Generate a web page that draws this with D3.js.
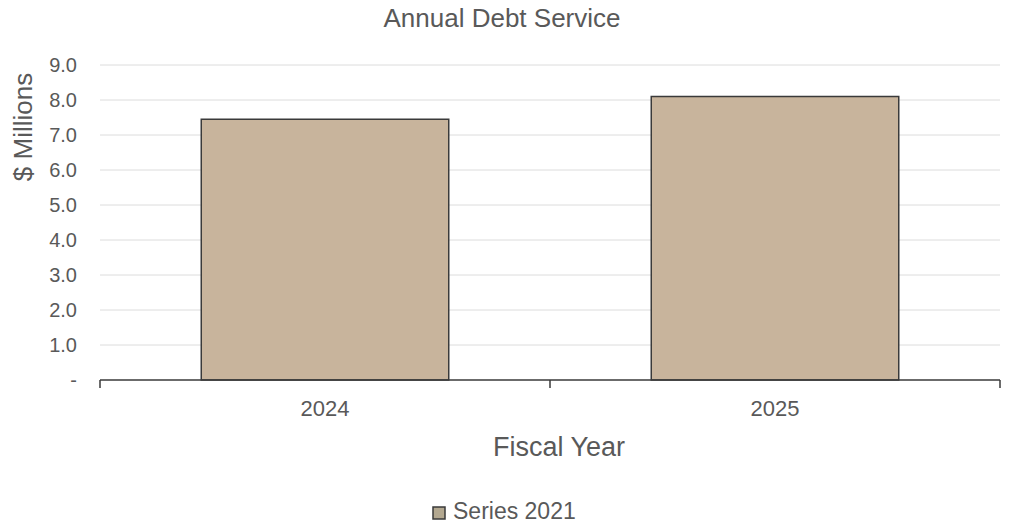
<!DOCTYPE html>
<html>
<head>
<meta charset="utf-8">
<script src="https://cdn.jsdelivr.net/npm/d3@7"></script>
<style>
  body { margin: 0; background: #fff; }
  svg { font-family: "Liberation Sans", Arial, sans-serif; }
</style>
</head>
<body>
<div id="chart"></div>
<script>
// data
var years = ["2024", "2025"];
var debtService = [7.45, 8.1];
var yTicks = [0, 1, 2, 3, 4, 5, 6, 7, 8, 9];
var seriesName = "Series 2021";

var width = 1009, height = 527;
var margin = {top: 65, right: 9, bottom: 147, left: 100};

var svg = d3.select("#chart").append("svg")
  .attr("width", width).attr("height", height);

var x = d3.scaleBand()
  .domain(years)
  .range([margin.left, width - margin.right])
  .paddingInner(0.45)
  .paddingOuter(0.225);

var y = d3.scaleLinear()
  .domain([0, 9])
  .range([height - margin.bottom, margin.top]);

// gridlines
svg.append("g")
  .selectAll("line")
  .data(yTicks.slice(1))
  .enter().append("line")
  .attr("x1", margin.left).attr("x2", width - margin.right)
  .attr("y1", function(d) { return y(d); })
  .attr("y2", function(d) { return y(d); })
  .attr("stroke", "#dcdcdc")
  .attr("stroke-width", 1);

// y labels
svg.append("g")
  .selectAll("text")
  .data(yTicks)
  .enter().append("text")
  .attr("x", 77)
  .attr("y", function(d) { return y(d); })
  .attr("dy", "0.35em")
  .attr("text-anchor", "end")
  .attr("fill", "#595959")
  .attr("font-size", 20)
  .text(function(d) { return d === 0 ? "-" : d.toFixed(1); });

// bars
svg.append("g")
  .selectAll("rect")
  .data(debtService)
  .enter().append("rect")
  .attr("x", function(d, i) { return x(years[i]); })
  .attr("y", function(d) { return y(d); })
  .attr("width", x.bandwidth())
  .attr("height", function(d) { return y(0) - y(d); })
  .attr("fill", "#c8b49c")
  .attr("stroke", "#3a3a3a")
  .attr("stroke-width", 1.5);

// x axis
var xAxis = svg.append("g")
  .attr("transform", "translate(0," + y(0) + ")");
xAxis.append("line")
  .attr("x1", margin.left).attr("x2", width - margin.right)
  .attr("stroke", "#3a3a3a").attr("stroke-width", 1.5);
// category boundaries
var bounds = [margin.left].concat(years.map(function(d) {
  return x(d) + x.bandwidth() + x.step() * x.paddingInner() / 2;
}));
bounds[bounds.length - 1] = width - margin.right;
xAxis.selectAll("line.tick")
  .data(bounds)
  .enter().append("line")
  .attr("class", "tick")
  .attr("x1", function(d) { return d; })
  .attr("x2", function(d) { return d; })
  .attr("y1", 0).attr("y2", 8)
  .attr("stroke", "#3a3a3a").attr("stroke-width", 1.5);
xAxis.selectAll("text")
  .data(years)
  .enter().append("text")
  .attr("x", function(d) { return x(d) + x.bandwidth() / 2; })
  .attr("y", 36)
  .attr("text-anchor", "middle")
  .attr("fill", "#595959")
  .attr("font-size", 22)
  .text(function(d) { return d; });

// titles
svg.append("text")
  .attr("x", 502).attr("y", 27)
  .attr("text-anchor", "middle")
  .attr("fill", "#595959")
  .attr("font-size", 26)
  .text("Annual Debt Service");

svg.append("text")
  .attr("transform", "translate(32,127) rotate(-90)")
  .attr("text-anchor", "middle")
  .attr("fill", "#595959")
  .attr("font-size", 26)
  .text("$ Millions");

svg.append("text")
  .attr("x", 559).attr("y", 456)
  .attr("text-anchor", "middle")
  .attr("fill", "#595959")
  .attr("font-size", 27)
  .text("Fiscal Year");

// legend
var legend = svg.append("g").attr("transform", "translate(433,507)");
legend.append("rect")
  .attr("x", 0).attr("y", 0).attr("width", 12).attr("height", 12)
  .attr("fill", "#b3a890").attr("stroke", "#3a3a3a").attr("stroke-width", 1.5);
legend.append("text")
  .attr("x", 20).attr("y", 12)
  .attr("fill", "#595959")
  .attr("font-size", 23)
  .text(seriesName);
</script>
</body>
</html>
